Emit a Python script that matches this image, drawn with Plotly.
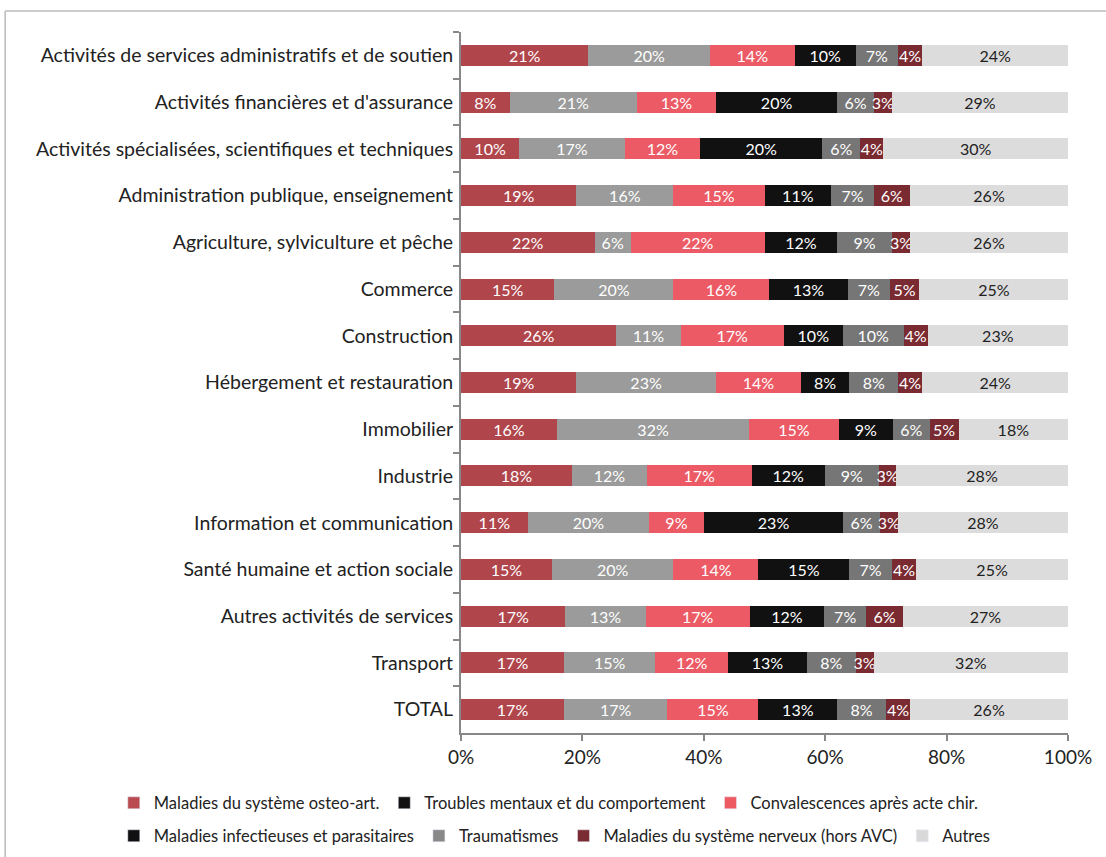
import plotly.graph_objects as go

categories = [
    "Activités de services administratifs et de soutien",
    "Activités financières et d'assurance",
    "Activités spécialisées, scientifiques et techniques",
    "Administration publique, enseignement",
    "Agriculture, sylviculture et pêche",
    "Commerce",
    "Construction",
    "Hébergement et restauration",
    "Immobilier",
    "Industrie",
    "Information et communication",
    "Santé humaine et action sociale",
    "Autres activités de services",
    "Transport",
    "TOTAL",
]

series_names = [
    "Maladies du système osteo-art.",
    "Troubles mentaux et du comportement",
    "Convalescences après acte chir.",
    "Maladies infectieuses et parasitaires",
    "Traumatismes",
    "Maladies du système nerveux (hors AVC)",
    "Autres",
]

# values (%); labels show rounded values
osteo = [21, 8, 9.6, 19, 22, 15.4, 25.6, 19, 15.8, 18.3, 11, 15, 17.2, 17, 17]
mentaux = [20, 21, 17.4, 16, 6, 19.6, 10.6, 23, 31.7, 12.3, 20, 20, 13.2, 15, 17]
convalescences = [14, 13, 12.4, 15, 22, 15.8, 17.0, 14, 14.7, 17.3, 9, 14, 17.2, 12, 15]
infectieuses = [10, 20, 20.1, 11, 12, 12.9, 9.7, 8, 9.0, 12.0, 23, 15, 12.2, 13, 13]
traumatismes = [7, 6, 6.3, 7, 9, 7.0, 10.0, 8, 6.0, 9.0, 6, 7, 7.0, 8, 8]
nerveux = [4, 3, 3.8, 6, 3, 4.8, 4.0, 4, 4.8, 2.8, 3, 4, 6.0, 3, 4]
autres = [24, 29, 30.4, 26, 26, 24.6, 23.1, 24, 18.0, 28.3, 28, 25, 27.2, 32, 26]

series_values = [osteo, mentaux, convalescences, infectieuses, traumatismes, nerveux, autres]

bar_colors = ["#B0464C", "#9A9B9A", "#EC5B65", "#111111", "#767676", "#7A2B31", "#DCDCDC"]
legend_colors = ["#B84A50", "#111111", "#EE5A62", "#111111", "#888888", "#7B2C33", "#D9D9D9"]
text_colors = ["white", "white", "white", "white", "white", "white", "#222222"]

x_ticks = [0, 20, 40, 60, 80, 100]

FONT = "Lato, 'Open Sans', sans-serif"

fig = go.Figure()
for name, vals, bc, tc in zip(series_names, series_values, bar_colors, text_colors):
    fig.add_trace(go.Bar(
        y=categories, x=vals, orientation="h", name=name,
        marker=dict(color=bc, line=dict(width=0)),
        width=0.45,
        texttemplate="%{x:.0f}%",
        textposition="inside", insidetextanchor="middle", textangle=0,
        textfont=dict(color=tc, size=16, family=FONT),
        showlegend=False, hoverinfo="x+name",
    ))

# legend entries (two rows as in the reference)
for i, (name, lc) in enumerate(zip(series_names, legend_colors)):
    fig.add_trace(go.Bar(
        y=[categories[0]], x=[None], orientation="h", name=name,
        marker=dict(color=lc), showlegend=True,
        legend="legend" if i < 3 else "legend2",
    ))

legend_common = dict(
    orientation="h", x=-0.572, xanchor="left", yanchor="middle",
    font=dict(size=16.5, family=FONT, color="#222222"), traceorder="normal",
    bgcolor="rgba(0,0,0,0)", itemwidth=30,
)

fig.update_layout(
    width=1106, height=857,
    margin=dict(l=461, r=38, t=32, b=124, autoexpand=False),
    barmode="stack",
    paper_bgcolor="white", plot_bgcolor="white",
    font=dict(family=FONT, color="#222222"),
    uniformtext=dict(minsize=16, mode="show"),
    xaxis=dict(
        range=[0, 100], tickvals=x_ticks, ticktext=[f"{t}%" for t in x_ticks],
        showgrid=False, zeroline=False, showline=True, linecolor="#888888", linewidth=2,
        ticks="outside", ticklen=6, tickwidth=2, tickcolor="#888888",
        tickfont=dict(size=19, family=FONT, color="#222222"),
        fixedrange=True, automargin=False,
    ),
    yaxis=dict(
        categoryorder="array", categoryarray=categories, autorange="reversed",
        showgrid=False, zeroline=False, showline=True, linecolor="#888888", linewidth=2,
        ticks="outside", ticklen=6, tickwidth=2, tickcolor="#888888", tickson="boundaries",
        tickfont=dict(size=19.5, family=FONT, color="#222222"),
        ticklabelstandoff=2, automargin=False,
    ),
    legend=dict(legend_common, y=-0.10),
    legend2=dict(legend_common, y=-0.147),
    shapes=[
        dict(type="line", xref="paper", yref="paper", x0=-0.751, x1=1.07, y0=1.030, y1=1.030,
             line=dict(color="#BBBBBB", width=1.5)),
        dict(type="line", xref="paper", yref="paper", x0=-0.751, x1=-0.751, y0=1.030, y1=-0.2,
             line=dict(color="#BBBBBB", width=1.5)),
    ],
)

fig.write_html(
    "out.html",
    config={"displayModeBar": False},
    post_script="document.body.style.margin='0';",
)
